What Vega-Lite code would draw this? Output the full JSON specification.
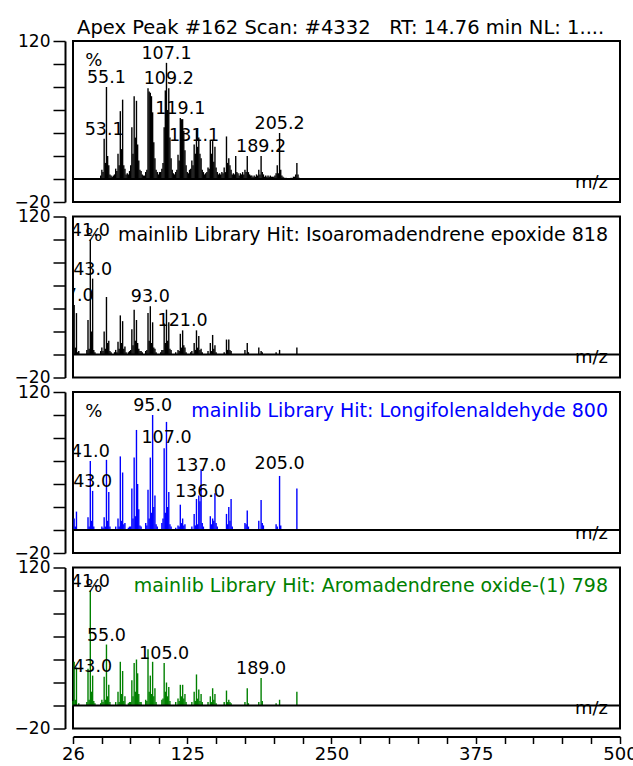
{
  "$schema": "https://vega.github.io/schema/vega-lite/v6.json",
  "background": "white",
  "padding": {"left": 13, "top": 16, "right": 5, "bottom": 2},
  "spacing": 14.5,
  "bounds": "flush",
  "config": {
    "view": {"stroke": "black", "strokeWidth": 2},
    "font": "DejaVu Sans",
    "text": {"font": "DejaVu Sans", "fontSize": 18, "color": "black"},
    "axisY": {
      "values": [-20, 0, 20, 40, 60, 80, 100, 120],
      "labelExpr": "datum.value == 120 || datum.value == -20 ? datum.label : ''",
      "offset": 8, "tickSize": 12, "domainColor": "black", "domainWidth": 2,
      "tickColor": "black", "tickWidth": 1.5, "labelFontSize": 17, "labelColor": "black",
      "labelPadding": 3, "title": null, "grid": false, "labelOverlap": false, "labelBound": false,
      "labelFont": "DejaVu Sans"
    }
  },
  "datasets": {
    "p1": [
      {"mz":50,"i":3},{"mz":51,"i":8},{"mz":52,"i":6},{"mz":53,"i":35,"lab":"53.1","ly":35},{"mz":54,"i":14},{"mz":55,"i":80,"lab":"55.1","ly":80},{"mz":56,"i":20},{"mz":57,"i":12},{"mz":58,"i":4},{"mz":59,"i":3},{"mz":60,"i":2},{"mz":61,"i":3},{"mz":62,"i":4},{"mz":63,"i":9},{"mz":64,"i":7},{"mz":65,"i":22},{"mz":66,"i":12},{"mz":67,"i":59},{"mz":68,"i":26},{"mz":69,"i":69},{"mz":70,"i":12},{"mz":71,"i":9},{"mz":72,"i":4},{"mz":73,"i":5},{"mz":74,"i":4},{"mz":75,"i":7},{"mz":76,"i":12},{"mz":77,"i":45},{"mz":78,"i":22},{"mz":79,"i":72},{"mz":80,"i":36},{"mz":81,"i":68},{"mz":82,"i":30},{"mz":83,"i":16},{"mz":84,"i":8},{"mz":85,"i":7},{"mz":86,"i":4},{"mz":87,"i":3},{"mz":88,"i":3},{"mz":89,"i":6},{"mz":90,"i":8},{"mz":91,"i":79},{"mz":92,"i":76},{"mz":93,"i":75},{"mz":94,"i":72},{"mz":95,"i":58},{"mz":96,"i":32},{"mz":97,"i":18},{"mz":98,"i":8},{"mz":99,"i":6},{"mz":100,"i":4},{"mz":101,"i":6},{"mz":102,"i":6},{"mz":103,"i":9},{"mz":104,"i":14},{"mz":105,"i":45},{"mz":106,"i":77},{"mz":107,"i":101,"lab":"107.1","ly":101},{"mz":108,"i":60},{"mz":109,"i":79,"lab":"109.2","ly":79},{"mz":110,"i":36},{"mz":111,"i":18},{"mz":112,"i":8},{"mz":113,"i":5},{"mz":114,"i":4},{"mz":115,"i":6},{"mz":116,"i":8},{"mz":117,"i":21},{"mz":118,"i":16},{"mz":119,"i":53,"lab":"119.1","ly":53},{"mz":120,"i":52},{"mz":121,"i":52},{"mz":122,"i":42},{"mz":123,"i":25},{"mz":124,"i":12},{"mz":125,"i":6},{"mz":126,"i":5},{"mz":127,"i":8},{"mz":128,"i":9},{"mz":129,"i":16},{"mz":130,"i":12},{"mz":131,"i":30,"lab":"131.1","ly":30},{"mz":132,"i":22},{"mz":133,"i":43},{"mz":134,"i":28},{"mz":135,"i":36},{"mz":136,"i":22},{"mz":137,"i":18},{"mz":138,"i":8},{"mz":139,"i":6},{"mz":140,"i":4},{"mz":141,"i":5},{"mz":142,"i":6},{"mz":143,"i":10},{"mz":144,"i":9},{"mz":145,"i":34},{"mz":146,"i":22},{"mz":147,"i":33},{"mz":148,"i":15},{"mz":149,"i":28},{"mz":150,"i":10},{"mz":151,"i":6},{"mz":152,"i":4},{"mz":153,"i":5},{"mz":154,"i":4},{"mz":155,"i":6},{"mz":156,"i":5},{"mz":157,"i":10},{"mz":158,"i":6},{"mz":159,"i":37},{"mz":160,"i":14},{"mz":161,"i":18},{"mz":162,"i":12},{"mz":163,"i":8},{"mz":164,"i":4},{"mz":165,"i":5},{"mz":166,"i":4},{"mz":167,"i":20},{"mz":168,"i":6},{"mz":169,"i":5},{"mz":170,"i":3},{"mz":171,"i":5},{"mz":172,"i":4},{"mz":173,"i":6},{"mz":174,"i":4},{"mz":175,"i":8},{"mz":176,"i":6},{"mz":177,"i":20},{"mz":178,"i":6},{"mz":179,"i":4},{"mz":180,"i":3},{"mz":181,"i":3},{"mz":182,"i":2},{"mz":183,"i":3},{"mz":184,"i":2},{"mz":185,"i":4},{"mz":186,"i":3},{"mz":187,"i":8},{"mz":188,"i":4},{"mz":189,"i":20,"lab":"189.2","ly":20},{"mz":190,"i":6},{"mz":191,"i":4},{"mz":192,"i":2},{"mz":193,"i":3},{"mz":194,"i":2},{"mz":195,"i":3},{"mz":196,"i":2},{"mz":197,"i":3},{"mz":198,"i":2},{"mz":199,"i":2},{"mz":200,"i":2},{"mz":201,"i":3},{"mz":202,"i":5},{"mz":203,"i":12},{"mz":204,"i":5},{"mz":205,"i":40,"lab":"205.2","ly":40},{"mz":206,"i":8},{"mz":207,"i":3},{"mz":208,"i":2},{"mz":209,"i":1},{"mz":210,"i":1},{"mz":211,"i":1},{"mz":215,"i":1},{"mz":217,"i":2},{"mz":218,"i":2},{"mz":219,"i":4},{"mz":220,"i":14},{"mz":221,"i":4},{"mz":222,"i":1}
    ],
    "p2": [
      {"mz":26,"i":10},{"mz":27,"i":43,"lab":"27.0","ly":43},{"mz":28,"i":6},{"mz":29,"i":36},{"mz":30,"i":2},{"mz":31,"i":3},{"mz":38,"i":4},{"mz":39,"i":30},{"mz":40,"i":5},{"mz":41,"i":100,"lab":"41.0","ly":100},{"mz":42,"i":20},{"mz":43,"i":66,"lab":"43.0","ly":66},{"mz":44,"i":4},{"mz":45,"i":2},{"mz":50,"i":3},{"mz":51,"i":6},{"mz":52,"i":3},{"mz":53,"i":20},{"mz":54,"i":5},{"mz":55,"i":50},{"mz":56,"i":10},{"mz":57,"i":12},{"mz":58,"i":3},{"mz":59,"i":2},{"mz":62,"i":2},{"mz":63,"i":4},{"mz":64,"i":2},{"mz":65,"i":11},{"mz":66,"i":5},{"mz":67,"i":34},{"mz":68,"i":10},{"mz":69,"i":29},{"mz":70,"i":5},{"mz":71,"i":7},{"mz":72,"i":2},{"mz":74,"i":2},{"mz":75,"i":3},{"mz":76,"i":4},{"mz":77,"i":22},{"mz":78,"i":8},{"mz":79,"i":39},{"mz":80,"i":12},{"mz":81,"i":30},{"mz":82,"i":10},{"mz":83,"i":5},{"mz":84,"i":3},{"mz":85,"i":3},{"mz":86,"i":2},{"mz":89,"i":3},{"mz":90,"i":4},{"mz":91,"i":36},{"mz":92,"i":12},{"mz":93,"i":42,"lab":"93.0","ly":42},{"mz":94,"i":10},{"mz":95,"i":28},{"mz":96,"i":6},{"mz":97,"i":5},{"mz":98,"i":2},{"mz":102,"i":2},{"mz":103,"i":4},{"mz":104,"i":4},{"mz":105,"i":27},{"mz":106,"i":10},{"mz":107,"i":39},{"mz":108,"i":12},{"mz":109,"i":28},{"mz":110,"i":5},{"mz":111,"i":4},{"mz":115,"i":2},{"mz":117,"i":4},{"mz":118,"i":3},{"mz":119,"i":18},{"mz":120,"i":6},{"mz":121,"i":21,"lab":"121.0","ly":21},{"mz":122,"i":8},{"mz":123,"i":6},{"mz":124,"i":2},{"mz":128,"i":2},{"mz":129,"i":3},{"mz":131,"i":10},{"mz":132,"i":4},{"mz":133,"i":21},{"mz":134,"i":6},{"mz":135,"i":16},{"mz":136,"i":4},{"mz":137,"i":5},{"mz":138,"i":2},{"mz":143,"i":3},{"mz":145,"i":10},{"mz":146,"i":3},{"mz":147,"i":17},{"mz":148,"i":5},{"mz":149,"i":8},{"mz":150,"i":2},{"mz":157,"i":2},{"mz":159,"i":13},{"mz":160,"i":4},{"mz":161,"i":13},{"mz":162,"i":4},{"mz":163,"i":3},{"mz":175,"i":4},{"mz":177,"i":10},{"mz":178,"i":2},{"mz":187,"i":6},{"mz":189,"i":3},{"mz":190,"i":2},{"mz":202,"i":2},{"mz":205,"i":4},{"mz":220,"i":6}
    ],
    "p3": [
      {"mz":27,"i":10},{"mz":28,"i":3},{"mz":29,"i":16},{"mz":39,"i":11},{"mz":40,"i":3},{"mz":41,"i":60,"lab":"41.0","ly":60},{"mz":42,"i":8},{"mz":43,"i":34,"lab":"43.0","ly":34},{"mz":44,"i":3},{"mz":51,"i":3},{"mz":52,"i":2},{"mz":53,"i":11},{"mz":54,"i":3},{"mz":55,"i":61},{"mz":56,"i":8},{"mz":57,"i":33},{"mz":58,"i":3},{"mz":63,"i":3},{"mz":65,"i":10},{"mz":66,"i":3},{"mz":67,"i":64},{"mz":68,"i":8},{"mz":69,"i":50},{"mz":70,"i":5},{"mz":71,"i":6},{"mz":74,"i":2},{"mz":75,"i":3},{"mz":76,"i":3},{"mz":77,"i":36},{"mz":78,"i":10},{"mz":79,"i":63},{"mz":80,"i":12},{"mz":81,"i":87},{"mz":82,"i":40},{"mz":83,"i":18},{"mz":84,"i":4},{"mz":85,"i":3},{"mz":89,"i":6},{"mz":90,"i":4},{"mz":91,"i":35},{"mz":92,"i":10},{"mz":93,"i":63},{"mz":94,"i":15},{"mz":95,"i":100,"lab":"95.0","ly":100},{"mz":96,"i":20},{"mz":97,"i":30},{"mz":98,"i":5},{"mz":99,"i":3},{"mz":103,"i":6},{"mz":104,"i":10},{"mz":105,"i":71},{"mz":106,"i":15},{"mz":107,"i":94,"lab":"107.0","ly":72},{"mz":108,"i":20},{"mz":109,"i":33},{"mz":110,"i":5},{"mz":111,"i":3},{"mz":115,"i":2},{"mz":117,"i":4},{"mz":118,"i":3},{"mz":119,"i":22},{"mz":120,"i":6},{"mz":121,"i":10},{"mz":122,"i":4},{"mz":123,"i":5},{"mz":129,"i":3},{"mz":131,"i":14},{"mz":132,"i":4},{"mz":133,"i":27},{"mz":134,"i":5},{"mz":135,"i":30},{"mz":136,"i":25,"lab":"136.0","ly":25},{"mz":137,"i":53,"lab":"137.0","ly":48},{"mz":138,"i":6},{"mz":139,"i":3},{"mz":145,"i":12},{"mz":146,"i":5},{"mz":147,"i":10},{"mz":148,"i":8},{"mz":149,"i":32},{"mz":150,"i":6},{"mz":151,"i":3},{"mz":159,"i":14},{"mz":160,"i":5},{"mz":161,"i":20},{"mz":162,"i":8},{"mz":163,"i":27},{"mz":164,"i":3},{"mz":175,"i":6},{"mz":176,"i":5},{"mz":177,"i":17},{"mz":178,"i":3},{"mz":187,"i":8},{"mz":189,"i":26},{"mz":190,"i":6},{"mz":191,"i":4},{"mz":202,"i":5},{"mz":203,"i":3},{"mz":205,"i":47,"lab":"205.0","ly":50},{"mz":206,"i":4},{"mz":220,"i":36}
    ],
    "p4": [
      {"mz":26,"i":4},{"mz":27,"i":38},{"mz":28,"i":5},{"mz":29,"i":33},{"mz":31,"i":2},{"mz":38,"i":3},{"mz":39,"i":32},{"mz":40,"i":5},{"mz":41,"i":100,"lab":"41.0","ly":100},{"mz":42,"i":12},{"mz":43,"i":26,"lab":"43.0","ly":26},{"mz":44,"i":4},{"mz":45,"i":2},{"mz":50,"i":2},{"mz":51,"i":5},{"mz":52,"i":3},{"mz":53,"i":25},{"mz":54,"i":5},{"mz":55,"i":53,"lab":"55.0","ly":53},{"mz":56,"i":8},{"mz":57,"i":18},{"mz":58,"i":3},{"mz":63,"i":3},{"mz":65,"i":12},{"mz":66,"i":3},{"mz":67,"i":38},{"mz":68,"i":10},{"mz":69,"i":30},{"mz":70,"i":4},{"mz":71,"i":8},{"mz":74,"i":2},{"mz":75,"i":3},{"mz":76,"i":3},{"mz":77,"i":22},{"mz":78,"i":8},{"mz":79,"i":37},{"mz":80,"i":12},{"mz":81,"i":40},{"mz":82,"i":28},{"mz":83,"i":10},{"mz":84,"i":3},{"mz":85,"i":3},{"mz":89,"i":5},{"mz":90,"i":4},{"mz":91,"i":49},{"mz":92,"i":12},{"mz":93,"i":26},{"mz":94,"i":10},{"mz":95,"i":38},{"mz":96,"i":8},{"mz":97,"i":15},{"mz":98,"i":3},{"mz":103,"i":5},{"mz":104,"i":6},{"mz":105,"i":37,"lab":"105.0","ly":37},{"mz":106,"i":12},{"mz":107,"i":20},{"mz":108,"i":8},{"mz":109,"i":16},{"mz":110,"i":4},{"mz":115,"i":3},{"mz":117,"i":6},{"mz":118,"i":4},{"mz":119,"i":18},{"mz":120,"i":8},{"mz":121,"i":18},{"mz":122,"i":6},{"mz":123,"i":10},{"mz":124,"i":3},{"mz":129,"i":3},{"mz":131,"i":12},{"mz":132,"i":4},{"mz":133,"i":27},{"mz":134,"i":6},{"mz":135,"i":14},{"mz":136,"i":4},{"mz":137,"i":10},{"mz":138,"i":3},{"mz":143,"i":3},{"mz":145,"i":8},{"mz":146,"i":3},{"mz":147,"i":15},{"mz":148,"i":5},{"mz":149,"i":10},{"mz":150,"i":2},{"mz":157,"i":3},{"mz":159,"i":13},{"mz":160,"i":3},{"mz":161,"i":5},{"mz":162,"i":3},{"mz":163,"i":2},{"mz":175,"i":3},{"mz":177,"i":15},{"mz":178,"i":2},{"mz":187,"i":3},{"mz":189,"i":24,"lab":"189.0","ly":24},{"mz":190,"i":4},{"mz":202,"i":2},{"mz":205,"i":5},{"mz":220,"i":12}
    ]
  },
  "vconcat": [
    {
      "width": 547, "height": 161,
      "layer": [
        {"data": {"name": "p1"}, "mark": {"type": "rule", "color": "black", "strokeWidth": 1.4},
         "encoding": {"x": {"field": "mz", "type": "quantitative", "scale": {"domain": [26, 500], "nice": false, "zero": false}, "axis": null},
                      "y": {"field": "i", "type": "quantitative", "scale": {"domain": [-20, 120], "nice": false}},
                      "y2": {"datum": 0}}},
        {"data": {"values": [{}]}, "mark": {"type": "rule", "color": "black", "strokeWidth": 2}, "encoding": {"y": {"datum": 0}}},
        {"data": {"name": "p1"}, "transform": [{"filter": "datum.lab"}], "mark": {"type": "text", "baseline": "alphabetic", "dy": -4, "clip": true, "fontSize": 17.5},
         "encoding": {"x": {"field": "mz", "type": "quantitative"}, "y": {"field": "ly", "type": "quantitative"}, "text": {"field": "lab"}}},
        {"data": {"values": [{}]}, "mark": {"type": "text", "text": "%", "baseline": "alphabetic"}, "encoding": {"x": {"datum": 44}, "y": {"datum": 98.5}}},
        {"data": {"values": [{}]}, "mark": {"type": "text", "text": "m/z", "align": "right", "baseline": "alphabetic"}, "encoding": {"x": {"datum": 489.6}, "y": {"datum": -7.5}}},
        {"data": {"values": [{}]}, "mark": {"type": "text", "text": "Apex Peak #162 Scan: #4332\u00a0\u00a0 RT: 14.76 min NL: 1....", "align": "left", "baseline": "alphabetic", "fontSize": 19.5}, "encoding": {"x": {"datum": 29.5}, "y": {"datum": 126.1}}}
      ]
    },
    {
      "width": 547, "height": 161,
      "layer": [
        {"data": {"name": "p2"}, "mark": {"type": "rule", "color": "black", "strokeWidth": 1.4},
         "encoding": {"x": {"field": "mz", "type": "quantitative", "scale": {"domain": [26, 500], "nice": false, "zero": false}, "axis": null},
                      "y": {"field": "i", "type": "quantitative", "scale": {"domain": [-20, 120], "nice": false}},
                      "y2": {"datum": 0}}},
        {"data": {"values": [{}]}, "mark": {"type": "rule", "color": "black", "strokeWidth": 2}, "encoding": {"y": {"datum": 0}}},
        {"data": {"name": "p2"}, "transform": [{"filter": "datum.lab"}], "mark": {"type": "text", "baseline": "alphabetic", "dy": -4, "clip": true, "fontSize": 17.5},
         "encoding": {"x": {"field": "mz", "type": "quantitative"}, "y": {"field": "ly", "type": "quantitative"}, "text": {"field": "lab"}}},
        {"data": {"values": [{}]}, "mark": {"type": "text", "text": "%", "baseline": "alphabetic"}, "encoding": {"x": {"datum": 44}, "y": {"datum": 98.5}}},
        {"data": {"values": [{}]}, "mark": {"type": "text", "text": "m/z", "align": "right", "baseline": "alphabetic"}, "encoding": {"x": {"datum": 489.6}, "y": {"datum": -7.5}}},
        {"data": {"values": [{}]}, "mark": {"type": "text", "text": "mainlib Library Hit: Isoaromadendrene epoxide 818", "align": "right", "baseline": "alphabetic", "fontSize": 19, "color": "black"}, "encoding": {"x": {"datum": 489.6}, "y": {"datum": 98.5}}}
      ]
    },
    {
      "width": 547, "height": 161,
      "layer": [
        {"data": {"name": "p3"}, "mark": {"type": "rule", "color": "#0000ff", "strokeWidth": 1.4},
         "encoding": {"x": {"field": "mz", "type": "quantitative", "scale": {"domain": [26, 500], "nice": false, "zero": false}, "axis": null},
                      "y": {"field": "i", "type": "quantitative", "scale": {"domain": [-20, 120], "nice": false}},
                      "y2": {"datum": 0}}},
        {"data": {"values": [{}]}, "mark": {"type": "rule", "color": "black", "strokeWidth": 2}, "encoding": {"y": {"datum": 0}}},
        {"data": {"name": "p3"}, "transform": [{"filter": "datum.lab"}], "mark": {"type": "text", "baseline": "alphabetic", "dy": -4, "clip": true, "fontSize": 17.5},
         "encoding": {"x": {"field": "mz", "type": "quantitative"}, "y": {"field": "ly", "type": "quantitative"}, "text": {"field": "lab"}}},
        {"data": {"values": [{}]}, "mark": {"type": "text", "text": "%", "baseline": "alphabetic"}, "encoding": {"x": {"datum": 44}, "y": {"datum": 98.5}}},
        {"data": {"values": [{}]}, "mark": {"type": "text", "text": "m/z", "align": "right", "baseline": "alphabetic"}, "encoding": {"x": {"datum": 489.6}, "y": {"datum": -7.5}}},
        {"data": {"values": [{}]}, "mark": {"type": "text", "text": "mainlib Library Hit: Longifolenaldehyde 800", "align": "right", "baseline": "alphabetic", "fontSize": 19, "color": "#0000ff"}, "encoding": {"x": {"datum": 489.6}, "y": {"datum": 98.5}}}
      ]
    },
    {
      "width": 547, "height": 161,
      "resolve": {"axis": {"x": "independent"}},
      "layer": [
        {"data": {"name": "p4"}, "mark": {"type": "rule", "color": "#008000", "strokeWidth": 1.4},
         "encoding": {"x": {"field": "mz", "type": "quantitative", "scale": {"domain": [26, 500], "nice": false, "zero": false},
                            "axis": {"values": [26, 125, 250, 375, 500], "orient": "bottom",
                                     "labelOverlap": false, "labelBound": false, "labelFlush": false,
                                     "offset": 8, "tickSize": 7, "domainColor": "black", "domainWidth": 2,
                                     "tickColor": "black", "tickWidth": 1.5, "labelFontSize": 18, "labelColor": "black",
                                     "labelPadding": 2, "title": null, "grid": false, "labelFont": "DejaVu Sans"}},
                      "y": {"field": "i", "type": "quantitative", "scale": {"domain": [-20, 120], "nice": false}},
                      "y2": {"datum": 0}}},
        {"data": {"values": [{}]}, "mark": {"type": "rule", "color": "black", "strokeWidth": 2}, "encoding": {"y": {"datum": 0}}},
        {"data": {"name": "p4"}, "transform": [{"filter": "datum.lab"}], "mark": {"type": "text", "baseline": "alphabetic", "dy": -4, "clip": true, "fontSize": 17.5},
         "encoding": {"x": {"field": "mz", "type": "quantitative",
                            "axis": {"values": [50.75, 75.5, 100.25, 150, 175, 200, 225, 275, 300, 325, 350, 400, 425, 450, 475],
                                     "orient": "bottom", "labels": false, "domain": false, "offset": 8, "tickSize": 7,
                                     "tickColor": "black", "tickWidth": 1.5, "title": null, "grid": false}},
                      "y": {"field": "ly", "type": "quantitative"}, "text": {"field": "lab"}}},
        {"data": {"values": [{}]}, "mark": {"type": "text", "text": "%", "baseline": "alphabetic"}, "encoding": {"x": {"datum": 44, "axis": null}, "y": {"datum": 98.5}}},
        {"data": {"values": [{}]}, "mark": {"type": "text", "text": "m/z", "align": "right", "baseline": "alphabetic"}, "encoding": {"x": {"datum": 489.6, "axis": null}, "y": {"datum": -7.5}}},
        {"data": {"values": [{}]}, "mark": {"type": "text", "text": "mainlib Library Hit: Aromadendrene oxide-(1) 798", "align": "right", "baseline": "alphabetic", "fontSize": 19, "color": "#008000"}, "encoding": {"x": {"datum": 489.6, "axis": null}, "y": {"datum": 98.5}}}
      ]
    }
  ]
}
